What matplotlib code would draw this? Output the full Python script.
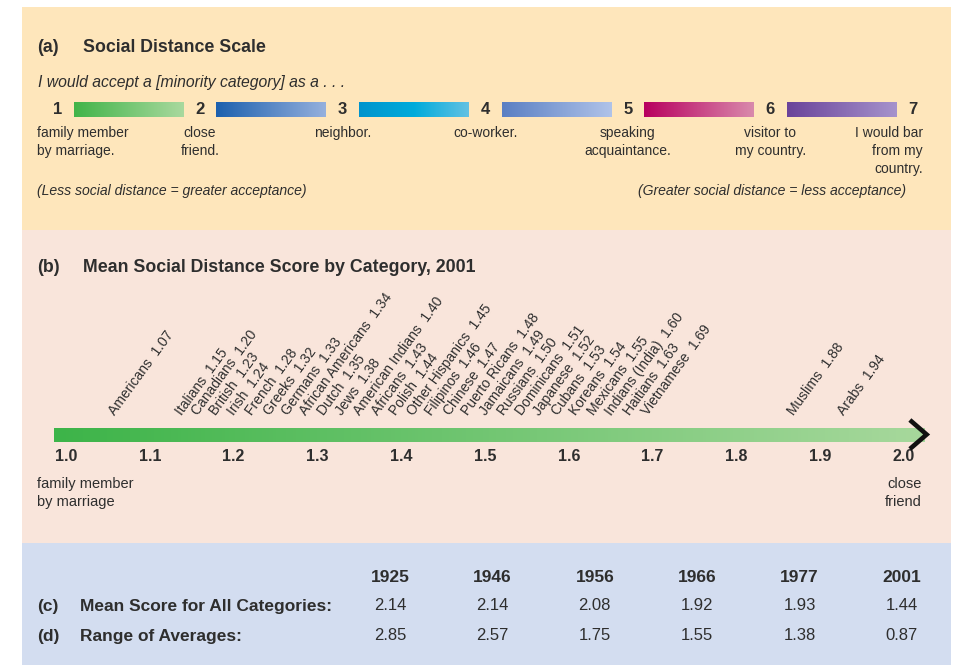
import numpy as np
import matplotlib.pyplot as plt
from matplotlib.patches import Rectangle
from matplotlib.colors import LinearSegmentedColormap

plt.rcParams['font.family'] = ['Liberation Sans', 'DejaVu Sans']

W, H = 961, 665
INK = '#2e2e2e'

# (a) social distance scale
scale_levels = [1, 2, 3, 4, 5, 6, 7]
scale_text = ['family member\nby marriage.', 'close\nfriend.', 'neighbor.', 'co-worker.',
              'speaking\nacquaintance.', 'visitor to\nmy country.', 'I would bar\nfrom my\ncountry.']

# (b) mean score by category, 2001
groups = ['Americans', 'Italians', 'Canadians', 'British', 'Irish', 'French', 'Greeks', 'Germans',
          'African Americans', 'Dutch', 'Jews', 'American Indians', 'Africans', 'Polish',
          'Other Hispanics', 'Filipinos', 'Chinese', 'Puerto Ricans', 'Jamaicans', 'Russians',
          'Dominicans', 'Japanese', 'Cubans', 'Koreans', 'Mexicans', 'Indians (India)',
          'Haitians', 'Vietnamese', 'Muslims', 'Arabs']
scores = [1.07, 1.15, 1.20, 1.23, 1.24, 1.28, 1.32, 1.33, 1.34, 1.35, 1.38, 1.40, 1.43, 1.44,
          1.45, 1.46, 1.47, 1.48, 1.49, 1.50, 1.51, 1.52, 1.53, 1.54, 1.55, 1.60, 1.63, 1.69,
          1.88, 1.94]
ticks = [1.0, 1.1, 1.2, 1.3, 1.4, 1.5, 1.6, 1.7, 1.8, 1.9, 2.0]

# (c), (d) table
years = [1925, 1946, 1956, 1966, 1977, 2001]
mean_scores = [2.14, 2.14, 2.08, 1.92, 1.93, 1.44]
range_avgs = [2.85, 2.57, 1.75, 1.55, 1.38, 0.87]

bar_colors = [
    ['#41b449', '#a9d99e'],
    ['#1c60ae', '#95b0dd'],
    ['#0094cd', '#00abdb', '#62c1e3'],
    ['#5a7fc3', '#b0c3e9'],
    ['#b8005f', '#d98aac'],
    ['#6a439a', '#a693cc'],
]


def px_axes(x0, y0, x1, y1):
    return fig.add_axes([x0 / W, 1 - y1 / H, (x1 - x0) / W, (y1 - y0) / H])


def grad_bar(ax, x0, x1, y0, y1, colors):
    cmap = LinearSegmentedColormap.from_list('g', colors)
    ax.imshow(np.linspace(0, 1, 256)[None, :], cmap=cmap, extent=(x0, x1, y1, y0),
              aspect='auto', interpolation='bilinear')


def spread(ideal, gap, min_gap):
    # put overlapping labels into clusters and space them evenly around their mean
    clusters = [[i] for i in range(len(ideal))]

    def place(c):
        m = np.mean([ideal[i] for i in c])
        return [m + (k - (len(c) - 1) / 2) * gap for k in range(len(c))]

    merged = True
    while merged:
        merged = False
        for j in range(len(clusters) - 1):
            if place(clusters[j + 1])[0] < place(clusters[j])[-1] + min_gap:
                clusters[j] = clusters[j] + clusters.pop(j + 1)
                merged = True
                break
    pos = []
    for c in clusters:
        pos += place(c)
    return pos


fig = plt.figure(figsize=(W / 100, H / 100), dpi=100)
bg = fig.add_axes([0, 0, 1, 1])
bg.set_xlim(0, W)
bg.set_ylim(H, 0)
bg.axis('off')
bg.add_patch(Rectangle((22, 7), 929, 223, color='#fee6bb', lw=0))
bg.add_patch(Rectangle((22, 230), 929, 313, color='#f9e5db', lw=0))
bg.add_patch(Rectangle((22, 543), 929, 122, color='#d3ddf0', lw=0))

# ---- panel (a)
bg.text(37, 47, '(a)', fontsize=12.8, weight='bold', va='center', color=INK)
bg.text(83, 47, 'Social Distance Scale', fontsize=12.8, weight='bold', va='center', color=INK)
bg.text(38, 83, 'I would accept a [minority category] as a . . .', fontsize=11.3,
        style='italic', va='center', color=INK)
bg.text(37, 191, '(Less social distance = greater acceptance)', fontsize=10.1,
        style='italic', va='center', color=INK)
bg.text(906, 191, '(Greater social distance = less acceptance)', fontsize=10.1,
        style='italic', va='center', ha='right', color=INK)

x1_px, step_px = 57.5, 142.6
ax_a = px_axes(22, 95, 951, 180)
for i, lvl in enumerate(scale_levels):
    ax_a.text(lvl, 110, str(lvl), ha='center', va='center', fontsize=12, weight='bold', color=INK)
    if i < len(bar_colors):
        grad_bar(ax_a, lvl + 0.115, lvl + 0.885, 102, 117, bar_colors[i])
    if i == 0:
        ha, dx = 'left', -0.145
    elif i == len(scale_levels) - 1:
        ha, dx = 'right', 0.07
    else:
        ha, dx = 'center', 0
    ax_a.text(lvl + dx, 126, scale_text[i], ha=ha, va='top', fontsize=10,
              linespacing=1.36, color=INK)
ax_a.set_xlim(1 + (22 - x1_px) / step_px, 1 + (951 - x1_px) / step_px)
ax_a.set_ylim(180, 95)
ax_a.axis('off')

# ---- panel (b)
bg.text(37, 267, '(b)', fontsize=12.8, weight='bold', va='center', color=INK)
bg.text(83, 267, 'Mean Social Distance Score by Category, 2001', fontsize=12.8, weight='bold',
        va='center', color=INK)

v0_px, unit_px = 66, 838
ax_b = px_axes(22, 290, 951, 442)
grad_bar(ax_b, 0.9857, 2.025, 428, 442, ['#3db449', '#a7d89c'])
ax_b.plot([2.007, 2.027, 2.007], [420, 434.5, 449], color='#111111', lw=3.3,
          solid_joinstyle='miter', solid_capstyle='butt', clip_on=False)

ideal = [s - 9.5 / unit_px for s in scores]
xpos = spread(ideal, 18 / unit_px, 12 / unit_px)
for name, s, xp in zip(groups, scores, xpos):
    ax_b.text(xp, 416, f'{name}  {s:.2f}', rotation=54, rotation_mode='anchor',
              ha='left', va='baseline', fontsize=10, color=INK)

ax_b.set_xlim(1 + (22 - v0_px) / unit_px, 1 + (951 - v0_px) / unit_px)
ax_b.set_ylim(442, 290)
ax_b.set_xticks(ticks, [f'{t:.1f}' for t in ticks])
ax_b.set_yticks([])
ax_b.tick_params(axis='x', length=0, pad=5, labelsize=11.5, labelcolor=INK)
for lbl in ax_b.get_xticklabels():
    lbl.set_fontweight('bold')
for sp in ax_b.spines.values():
    sp.set_visible(False)
ax_b.patch.set_visible(False)

bg.text(37, 477, 'family member\nby marriage', fontsize=10.5, va='top', linespacing=1.4, color=INK)
bg.text(922, 477, 'close\nfriend', fontsize=10.5, va='top', ha='right', linespacing=1.4, color=INK)

# ---- panel (c), (d)
col_x = np.linspace(390, 902, len(years))
for x, yr, m, r in zip(col_x, years, mean_scores, range_avgs):
    bg.text(x, 577, str(yr), ha='center', va='center', fontsize=12.5, weight='bold', color=INK)
    bg.text(x, 606, f'{m:.2f}', ha='center', va='center', fontsize=12, color=INK)
    bg.text(x, 636, f'{r:.2f}', ha='center', va='center', fontsize=12, color=INK)
bg.text(37, 606, '(c)', fontsize=12.5, weight='bold', va='center', color=INK)
bg.text(80, 606, 'Mean Score for All Categories:', fontsize=12.5, weight='bold', va='center', color=INK)
bg.text(37, 636, '(d)', fontsize=12.5, weight='bold', va='center', color=INK)
bg.text(80, 636, 'Range of Averages:', fontsize=12.5, weight='bold', va='center', color=INK)

fig.savefig('out.png', dpi=100)
